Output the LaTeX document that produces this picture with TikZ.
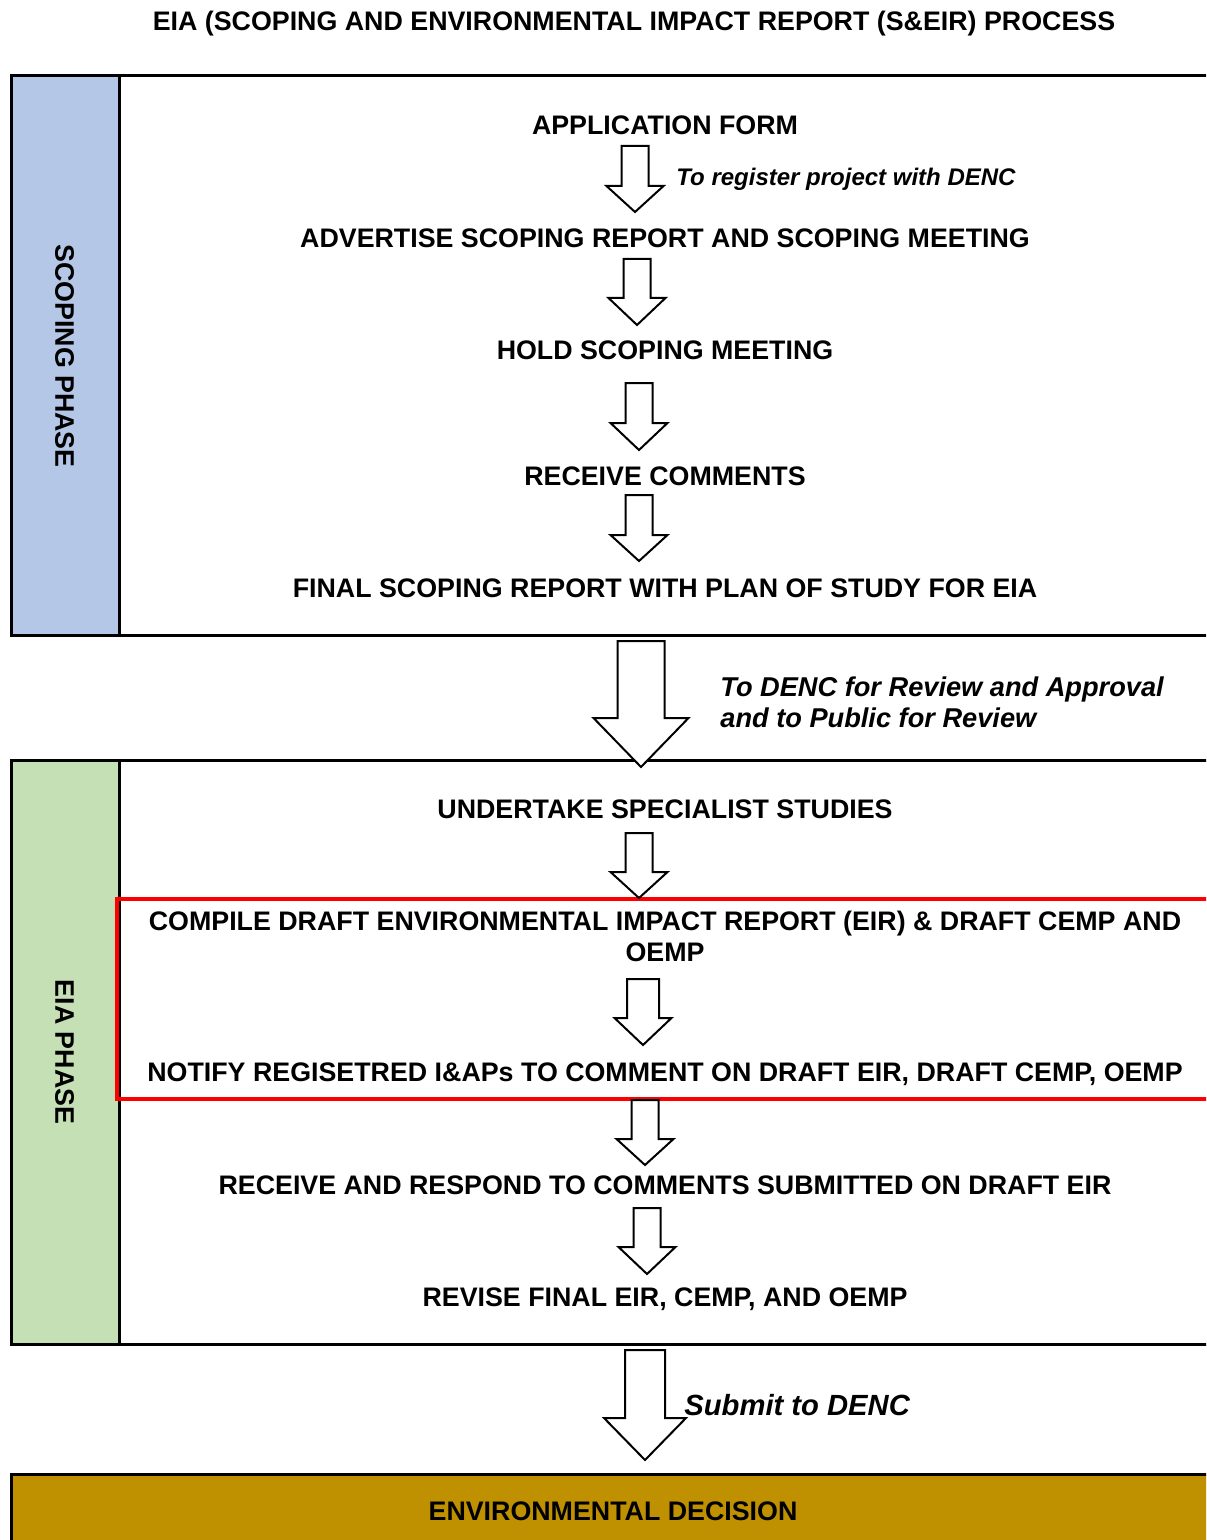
\documentclass[tikz,border=0pt]{standalone}
\usepackage{fontspec}
\setmainfont{Liberation Sans}
\definecolor{scopeblue}{HTML}{B4C7E7}
\definecolor{eiagreen}{HTML}{C5E0B4}
\definecolor{decgold}{HTML}{BF9000}
\definecolor{hired}{HTML}{FF0000}
\newcommand\blkarrow[7]{% cx, top, headbase, tip, shafthalf, headhalf, name
  \draw[barrow] (#1-#5,#2) coordinate (#7-top) -- (#1+#5,#2) -- (#1+#5,#3) -- (#1+#6,#3)
    -- (#1,#4) coordinate (#7-tip) -- (#1-#6,#3) -- (#1-#5,#3) -- cycle;}
\begin{document}
\begin{tikzpicture}[x=0.5pt,y=-0.5pt,
  frame/.style={draw=black, line width=1.5pt},
  redframe/.style={draw=hired, line width=2.3pt},
  barrow/.style={draw=black, fill=white, line width=1pt, line join=miter},
  stepbox/.style={font=\bfseries\fontsize{13.4}{16}\selectfont, inner sep=0pt, text height=9.6pt, text depth=0pt},
  steptwo/.style={font=\bfseries\fontsize{13.4}{15.5}\selectfont, inner sep=0pt, align=center},
  phase/.style={font=\bfseries\fontsize{13.4}{16}\selectfont, inner sep=0pt, text height=9.6pt, text depth=0pt, rotate=-90},
  notesmall/.style={font=\bfseries\itshape\fontsize{12}{14}\selectfont, inner sep=0pt, text height=8.6pt, text depth=0pt, anchor=west},
  notebig/.style={font=\bfseries\itshape\fontsize{13.6}{15.5}\selectfont, inner sep=0pt, align=left, anchor=north west},
  notesubmit/.style={font=\bfseries\itshape\fontsize{14.6}{17}\selectfont, inner sep=0pt, text height=10.5pt, text depth=0pt, anchor=west}
]
\useasboundingbox (0,0) rectangle (1206,1540);
\clip (0,0) rectangle (1206,1540);

% title
\node[stepbox] (title) at (634,21) {EIA (SCOPING AND ENVIRONMENTAL IMPACT REPORT (S\&EIR) PROCESS};

% scoping phase frame
\fill[scopeblue] (11,76) rectangle (119,635);
\draw[frame] (11,76) rectangle (1230,635);
\draw[frame] (119,76) -- (119,635);
\node[phase] (scopephase) at (65,356) {SCOPING PHASE};

% EIA phase frame
\fill[eiagreen] (11,760) rectangle (119,1344);
\draw[frame] (11,760) rectangle (1230,1344);
\draw[frame] (119,760) -- (119,1344);
\node[phase] (eiaphase) at (65,1052) {EIA PHASE};

% decision
\draw[frame, fill=decgold] (11,1474) rectangle (1230,1570);
\node[stepbox] (decision) at (613,1511) {ENVIRONMENTAL DECISION};

% red highlight
\draw[redframe] (117,899) rectangle (1230,1099);

% scoping steps
\node[stepbox] (app) at (665,125) {APPLICATION FORM};
\node[stepbox] (adv) at (665,238) {ADVERTISE SCOPING REPORT AND SCOPING MEETING};
\node[stepbox] (hold) at (665,350) {HOLD SCOPING MEETING};
\node[stepbox] (recv) at (665,476) {RECEIVE COMMENTS};
\node[stepbox] (final) at (665,588) {FINAL SCOPING REPORT WITH PLAN OF STUDY FOR EIA};

% EIA steps
\node[stepbox] (spec) at (665,809) {UNDERTAKE SPECIALIST STUDIES};
\node[steptwo, anchor=north] (compile) at (665,911) {COMPILE DRAFT ENVIRONMENTAL IMPACT REPORT (EIR) \& DRAFT CEMP AND\\OEMP};
\node[stepbox] (notify) at (665,1072) {NOTIFY REGISETRED I\&APs TO COMMENT ON DRAFT EIR, DRAFT CEMP, OEMP};
\node[stepbox] (respond) at (665,1185) {RECEIVE AND RESPOND TO COMMENTS SUBMITTED ON DRAFT EIR};
\node[stepbox] (revise) at (665,1297) {REVISE FINAL EIR, CEMP, AND OEMP};

% block arrows
\blkarrow{635}{146}{186}{212}{13.5}{28.5}{a1}
\blkarrow{637}{259}{298}{325}{13.5}{28.5}{a2}
\blkarrow{639}{383}{423}{450}{13.5}{28.5}{a3}
\blkarrow{639}{495}{535}{561}{13.5}{28.5}{a4}
\blkarrow{641}{641}{718}{767}{23.5}{47.5}{abig}
\blkarrow{639}{833}{872}{898}{13.5}{28.5}{a5}
\blkarrow{643}{979}{1018}{1045}{16}{28.5}{a6}
\blkarrow{645}{1100}{1139}{1165}{13.5}{28.5}{a7}
\blkarrow{647}{1208}{1247}{1274}{13.5}{28.5}{a8}
\blkarrow{645}{1350}{1418}{1460}{20}{41}{asub}

% notes
\node[notesmall] (reg) at (676,177) {To register project with DENC};
\node[notebig] (review) at (720,676) {To DENC for Review and Approval\\and to Public for Review};
\node[notesubmit] (submit) at (684,1405) {Submit to DENC};
\end{tikzpicture}
\end{document}
